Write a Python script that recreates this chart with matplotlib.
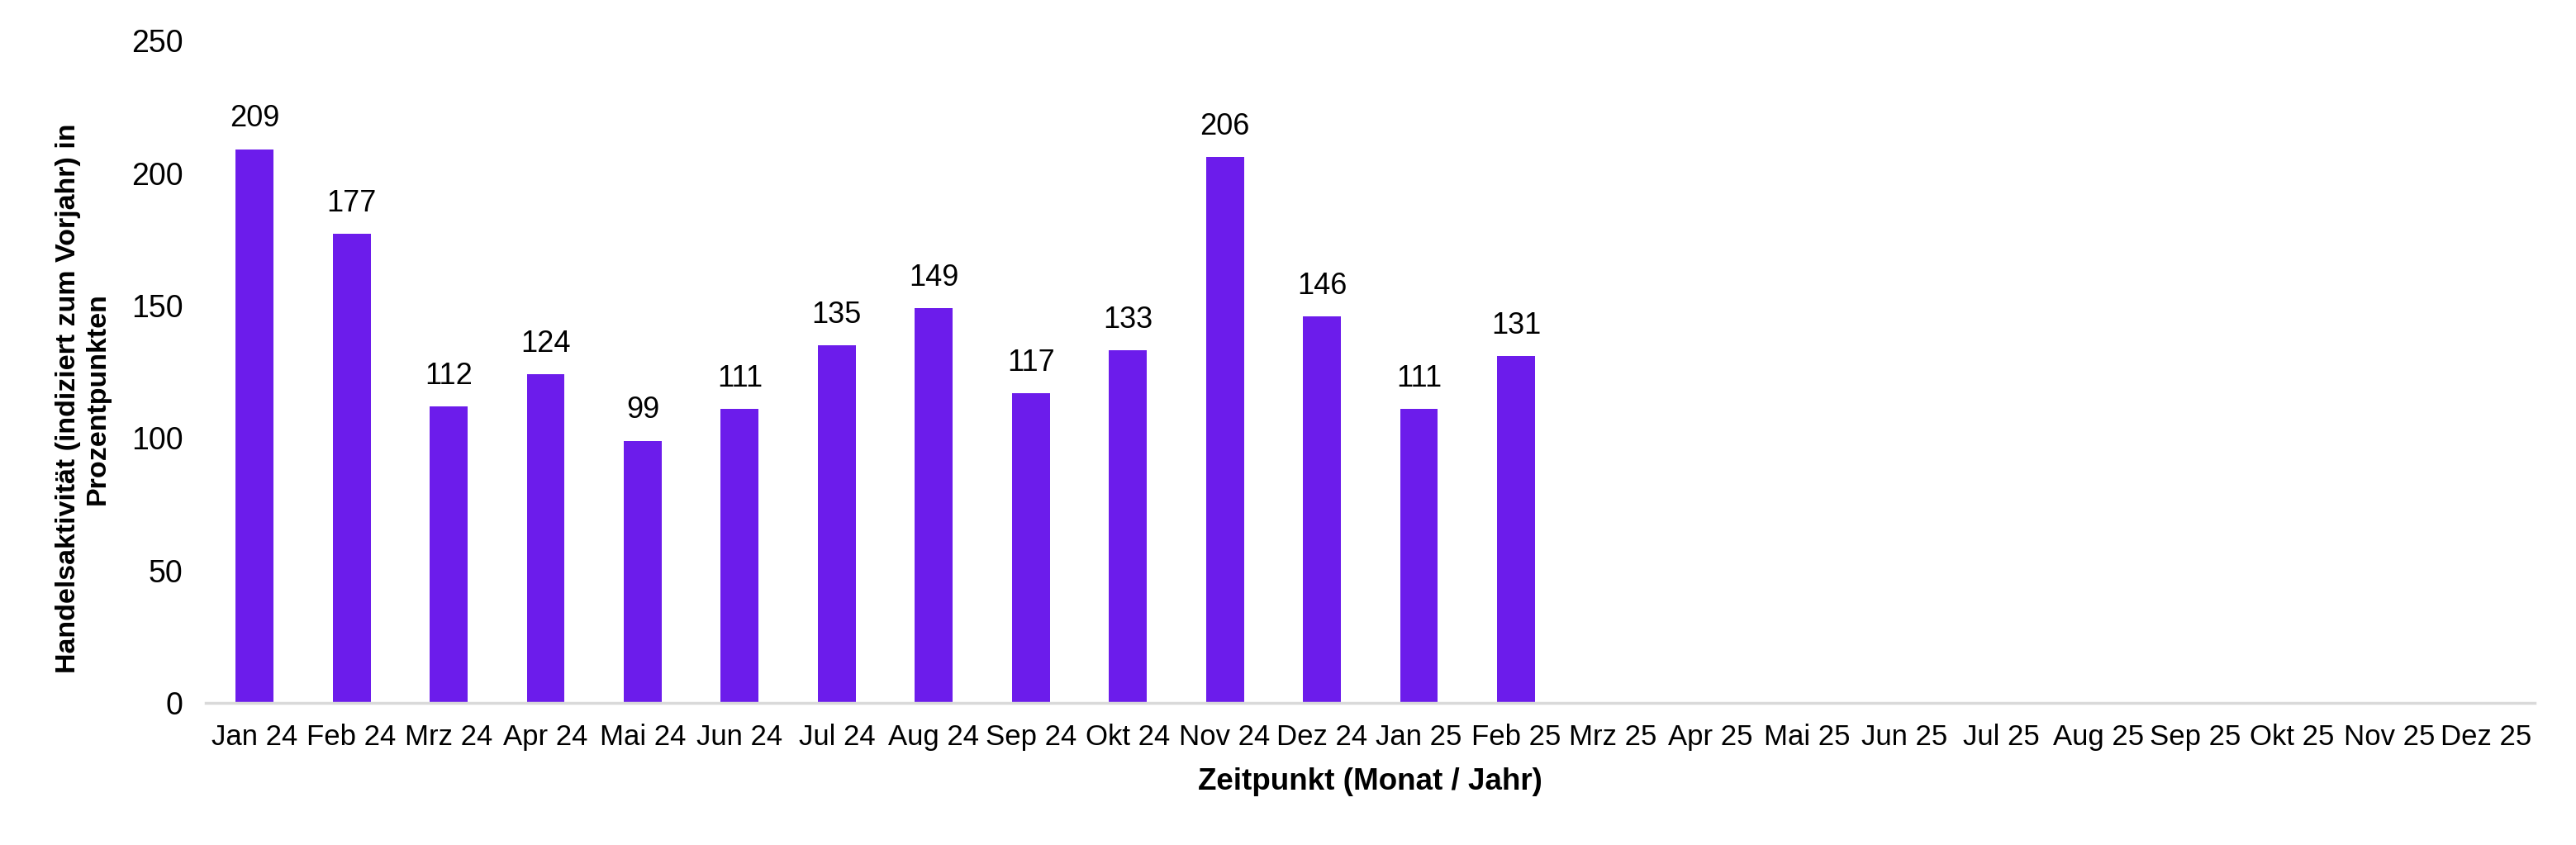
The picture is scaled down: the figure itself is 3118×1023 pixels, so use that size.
import matplotlib
matplotlib.use("Agg")
import matplotlib.pyplot as plt
import numpy as np

plt.rcParams['font.family'] = ['Liberation Sans', 'DejaVu Sans']

monate = ['Jan 24', 'Feb 24', 'Mrz 24', 'Apr 24', 'Mai 24', 'Jun 24', 'Jul 24', 'Aug 24',
          'Sep 24', 'Okt 24', 'Nov 24', 'Dez 24', 'Jan 25', 'Feb 25', 'Mrz 25', 'Apr 25',
          'Mai 25', 'Jun 25', 'Jul 25', 'Aug 25', 'Sep 25', 'Okt 25', 'Nov 25', 'Dez 25']
werte = [209, 177, 112, 124, 99, 111, 135, 149, 117, 133, 206, 146, 111, 131]

farbe = '#6C1CEB'

fig = plt.figure(figsize=(31.18, 10.23), dpi=100)
ax = fig.add_axes([0.080, 0.168, 0.904, 0.784])

x = np.arange(len(monate))
bars = ax.bar(x[:len(werte)], werte, width=0.39, color=farbe)
for b, v in zip(bars, werte):
    ax.text(b.get_x() + b.get_width() / 2, v + 6, str(v), ha='center', va='bottom', fontsize=26)

ax.set_xlim(-0.5, len(monate) - 0.5)
ax.set_ylim(0, 250)
ax.set_yticks(range(0, 251, 50))
ax.set_xticks(x)
ax.set_xticklabels(monate, fontsize=25)
ax.tick_params(axis='y', labelsize=27, length=0, pad=20)
ax.tick_params(axis='x', length=0, pad=18)

for s in ['top', 'right', 'left']:
    ax.spines[s].set_visible(False)
ax.spines['bottom'].set_color('#D9D9D9')
ax.spines['bottom'].set_linewidth(2.5)

ax.set_ylabel('Handelsaktivität (indiziert zum Vorjahr) in\nProzentpunkten', fontsize=24.5,
              fontweight='bold')
ax.yaxis.set_label_coords(-0.041, 0.46)
ax.set_xlabel('Zeitpunkt (Monat / Jahr)', fontsize=26.5, fontweight='bold', labelpad=14)

fig.savefig('out.png', dpi=100)
